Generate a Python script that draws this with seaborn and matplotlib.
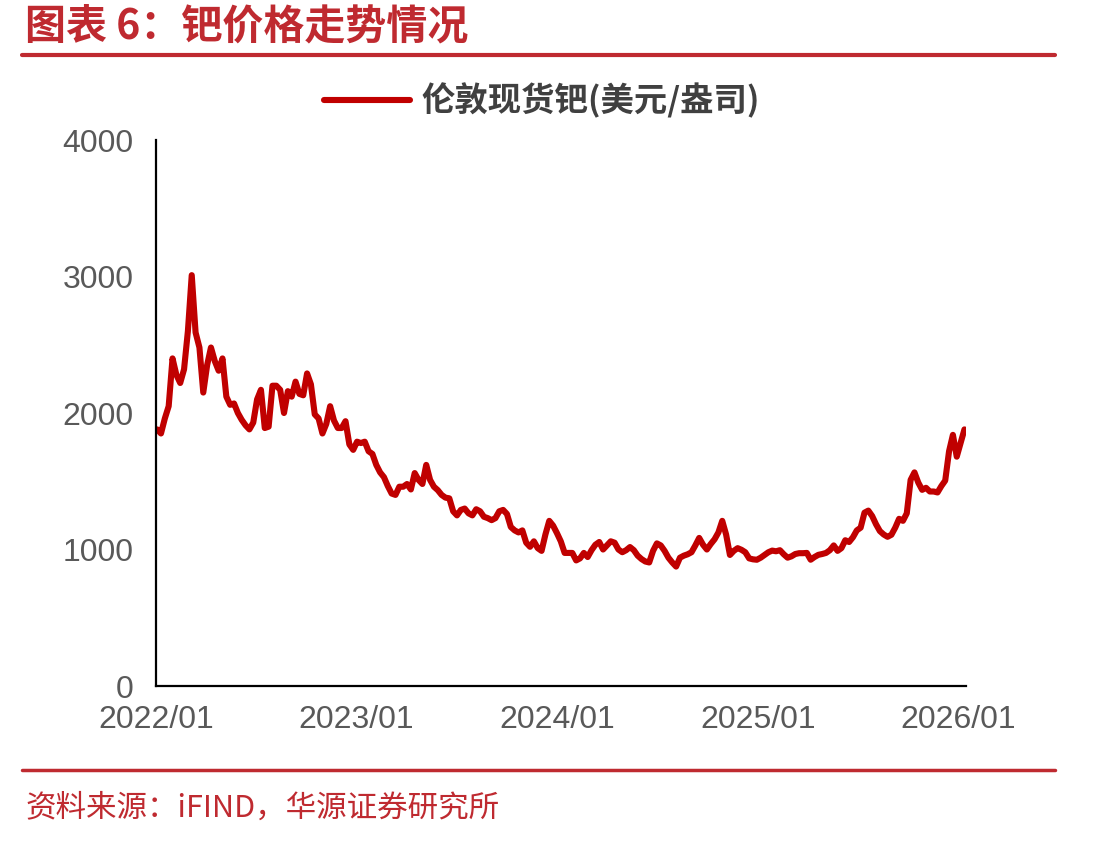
import pandas as pd
import numpy as np
import matplotlib.pyplot as plt
import matplotlib.dates as mdates
import seaborn as sns

# 伦敦现货钯周度价格（美元/盎司）
start_date = '2022-01-03'
palladium = [
    1880, 1850, 1960, 2050, 2400, 2280, 2220, 2320, 2600, 3010,
    2590, 2480, 2150, 2350, 2480, 2380, 2310, 2400, 2120, 2060,
    2070, 2000, 1950, 1910, 1880, 1930, 2100, 2170, 1890, 1900,
    2200, 2200, 2170, 2000, 2160, 2120, 2230, 2140, 2130, 2290,
    2210, 1990, 1960, 1850, 1920, 2050, 1945, 1890, 1890, 1940,
    1770, 1730, 1790, 1780, 1790, 1720, 1700, 1620, 1565, 1530,
    1465, 1410, 1400, 1460, 1460, 1480, 1440, 1560, 1510, 1480,
    1620, 1510, 1460, 1435, 1400, 1380, 1375, 1280, 1250, 1290,
    1300, 1265, 1250, 1295, 1280, 1240, 1230, 1215, 1230, 1280,
    1290, 1260, 1165, 1140, 1125, 1140, 1050, 1020, 1060, 1010,
    990, 1110, 1210, 1175, 1120, 1060, 975, 975, 975, 920,
    935, 975, 945, 995, 1035, 1055, 1000, 1030, 1060, 1050,
    1000, 980, 995, 1018, 995, 955, 930, 912, 905, 990,
    1045, 1030, 990, 940, 905, 875, 940, 955, 965, 980,
    1030, 1085, 1035, 1000, 1040, 1075, 1125, 1210, 1110, 960,
    990, 1010, 998, 980, 935, 928, 925, 940, 960, 980,
    992, 987, 995, 965, 940, 950, 967, 973, 973, 975,
    925, 945, 961, 967, 975, 995, 1030, 990, 1010, 1068,
    1055, 1090, 1140, 1160, 1270, 1285, 1245, 1185, 1135, 1110,
    1093, 1108, 1160, 1225, 1210, 1265, 1510, 1565, 1490, 1437,
    1452, 1425, 1425, 1418, 1465, 1505, 1720, 1840, 1680, 1780,
    1880,
]
dates = pd.date_range(start_date, periods=len(palladium), freq='7D')
df = pd.DataFrame({'date': dates, 'price': palladium})

series_name = '伦敦现货钯(美元/盎司)'
title_text = '图表 6：钯价格走势情况'
source_text = '资料来源：iFIND，华源证券研究所'
yticks = [0, 1000, 2000, 3000, 4000]

sns.set_theme(style='white')
plt.rcParams['font.family'] = ['Liberation Sans', 'Noto Sans CJK SC', 'DejaVu Sans']
plt.rcParams['axes.unicode_minus'] = False

red = '#BF2A30'
line_red = '#C00000'
cjk = ['Noto Sans CJK SC', 'DejaVu Sans']

fig = plt.figure(figsize=(11.13, 8.41), dpi=100)
ax = fig.add_axes([0.1402, 0.1843, 0.7278, 0.6492])

sns.lineplot(data=df, x='date', y='price', ax=ax, color=line_red,
             linewidth=4.4, label=series_name, legend=False)

ax.set_ylim(0, 4000)
ax.set_yticks(yticks)
ax.set_xlim(pd.Timestamp('2022-01-01'), pd.Timestamp('2026-01-15'))
ax.xaxis.set_major_locator(mdates.YearLocator(month=1, day=1))
ax.xaxis.set_major_formatter(mdates.DateFormatter('%Y/%m'))
ax.set_xlabel('')
ax.set_ylabel('')

for side in ['top', 'right']:
    ax.spines[side].set_visible(False)
for side in ['left', 'bottom']:
    ax.spines[side].set_color('black')
    ax.spines[side].set_linewidth(1.6)

ax.tick_params(axis='both', direction='in', length=9, width=1.6, color='black',
               labelsize=23, labelcolor='#595959')
ax.tick_params(axis='y', pad=16)
ax.tick_params(axis='x', pad=14)

fig.legend(handles=ax.get_lines(), labels=[series_name], loc='center',
           bbox_to_anchor=(542 / 1113, 1 - 101 / 841), frameon=False,
           handlelength=2.6, handletextpad=0.35,
           prop={'family': cjk, 'size': 24, 'weight': 'bold'},
           labelcolor='#404040')

# 标题与来源
fig.text(25 / 1113, 1 - 26 / 841, title_text, color=red, fontsize=29.5,
         fontweight='bold', family=cjk, ha='left', va='center')
fig.add_artist(plt.Line2D([22 / 1113, 1055 / 1113], [1 - 55 / 841, 1 - 55 / 841],
                          color=red, linewidth=3))
fig.add_artist(plt.Line2D([22 / 1113, 1055 / 1113], [1 - 770 / 841, 1 - 770 / 841],
                          color=red, linewidth=2.5))
fig.text(25 / 1113, 1 - 808 / 841, source_text, color=red, fontsize=22,
         family=cjk, ha='left', va='center')

fig.savefig('out.png', dpi=100)
